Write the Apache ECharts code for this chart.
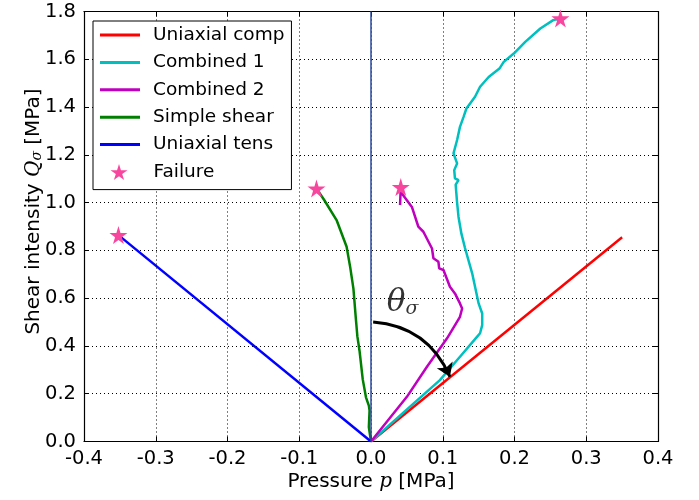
<!DOCTYPE html>
<html><head><meta charset="utf-8">
<script src="https://cdn.jsdelivr.net/npm/echarts@6/dist/echarts.min.js"></script>
<style>html,body{margin:0;padding:0;background:#fff}#c{width:699px;height:500px}</style>
</head><body><div id="c"></div>
<script>
const xTicks = [-0.4,-0.3,-0.2,-0.1,0.0,0.1,0.2,0.3,0.4];
const yTicks = [0,0.2,0.4,0.6,0.8,1.0,1.2,1.4,1.6,1.8];
const seriesNames = ['Uniaxial comp','Combined 1','Combined 2','Simple shear','Uniaxial tens'];
const failureName = 'Failure';
const uniaxialComp = [[0,0],[0.350,0.855]];
const combined1 = [[0,0],[0.096,0.257],[0.124,0.355],[0.148,0.439],[0.152,0.453],[0.155,0.487],[0.155,0.536],[0.150,0.578],[0.141,0.704],[0.131,0.81],[0.126,0.87],[0.122,0.94],[0.120,1.0],[0.118,1.075],[0.122,1.094],[0.117,1.101],[0.116,1.136],[0.120,1.164],[0.115,1.206],[0.120,1.262],[0.124,1.317],[0.129,1.359],[0.133,1.394],[0.145,1.443],[0.152,1.485],[0.164,1.526],[0.179,1.561],[0.185,1.589],[0.199,1.624],[0.215,1.673],[0.236,1.729],[0.254,1.764],[0.264,1.771]];
const combined2 = [[0,0],[0.050,0.187],[0.078,0.313],[0.106,0.432],[0.124,0.522],[0.127,0.557],[0.124,0.578],[0.117,0.620],[0.110,0.648],[0.101,0.718],[0.095,0.725],[0.094,0.752],[0.087,0.767],[0.085,0.808],[0.073,0.878],[0.066,0.899],[0.057,0.982],[0.043,1.038],[0.0415,1.065],[0.0405,0.99]];
const simpleShear = [[0,0],[-0.003,0.06],[-0.002,0.13],[-0.003,0.15],[-0.007,0.185],[-0.0115,0.26],[-0.016,0.38],[-0.019,0.44],[-0.021,0.51],[-0.0245,0.64],[-0.029,0.73],[-0.034,0.815],[-0.048,0.927],[-0.065,1.01],[-0.076,1.059]];
const uniaxialTens = [[0,0],[-0.352,0.864]];
const failurePts = [[0.264,1.771],[0.0415,1.065],[-0.076,1.059],[-0.352,0.864]];
const zeroLine = [[0,0],[0,1.8]];
const arrowCoords = [[0.003,0.50],[0.110,0.271]];
const thetaPos = [[0.044,0.58]];

const colors = ['#ff0000','#00bfbf','#bf00bf','#008000','#0000ff'];
const STAR = 'path://M50,0 L61,35 L98,35 L68,57 L79,91 L50,70 L21,91 L32,57 L2,35 L39,35 Z';
const FONT = 'DejaVu Sans';
const FS = 19.5;
const FSN = 20;
const FSL = 18.5;

const chart = echarts.init(document.getElementById('c'), null, {renderer:'canvas'});
const lineData = [uniaxialComp, combined1, combined2, simpleShear, uniaxialTens];
const fmt = v => Math.abs(v) < 1e-9 ? '0.0' : v.toFixed(1);
const axisCommon = {
  type:'value', axisLine:{show:true,onZero:false,lineStyle:{color:'#000',width:1.2}},
  axisTick:{show:true,inside:true,length:5,lineStyle:{color:'#000'}},
  axisLabel:{color:'#000',fontFamily:FONT,fontSize:FS,formatter:fmt},
  splitLine:{show:true,lineStyle:{color:'#000',type:[1,3],width:1}}
};
const series = lineData.map((d,i)=>({
  name: seriesNames[i], type:'line', data:d, showSymbol:false, symbol:'none',
  lineStyle:{color:colors[i],width:2.5}, itemStyle:{color:colors[i]}, z:3, animation:false
}));
series.push({name:'zero', type:'line', data:zeroLine, showSymbol:false, symbol:'none',
  lineStyle:{color:'#2c4a9c',width:1.5}, z:4, animation:false, silent:true});
series.push({name:failureName, type:'scatter', data:failurePts, symbol:STAR, symbolSize:18,
  itemStyle:{color:'#f8469f',opacity:1}, z:6, animation:false});
series.push({name:'arrow', type:'lines', coordinateSystem:'cartesian2d', z:5, animation:false,
  data:[{coords:arrowCoords}], symbol:['none','arrow'], symbolSize:[0,13],
  lineStyle:{color:'#000',width:3,curveness:0.3,opacity:1}});
series.push({name:'theta', type:'scatter', data:thetaPos, symbolSize:0, z:6, animation:false,
  label:{show:true, position:'inside', formatter:'{t|θ}{s|σ}',
    rich:{t:{fontFamily:'DejaVu Serif',fontStyle:'italic',fontSize:31,color:'#000'},
          s:{fontFamily:'DejaVu Serif',fontStyle:'italic',fontSize:19,color:'#000',verticalAlign:'bottom',padding:[12,0,0,0]}}}});

chart.setOption({
  animation:false,
  backgroundColor:'#fff',
  grid:{left:84,right:41,top:11.5,bottom:58.5},
  xAxis:[Object.assign({}, axisCommon, {min:xTicks[0],max:xTicks[xTicks.length-1],interval:0.1,position:'bottom',
      axisLabel:Object.assign({}, axisCommon.axisLabel, {margin:7}),
      name:'Pressure {i|p} [MPa]', nameLocation:'middle', nameGap:30, nameMoveOverlap:false,
      nameTextStyle:{color:'#000',fontFamily:FONT,fontSize:FSN,rich:{i:{fontFamily:'DejaVu Serif',fontStyle:'italic',fontSize:FSN}}}}),
    Object.assign({}, axisCommon, {min:xTicks[0],max:xTicks[xTicks.length-1],interval:0.1,position:'top',
      axisLabel:{show:false},splitLine:{show:false}})],
  yAxis:[Object.assign({}, axisCommon, {min:yTicks[0],max:yTicks[yTicks.length-1],interval:0.2,position:'left',
      name:'Shear intensity {i|Q}{s|σ} [MPa]', nameLocation:'middle', nameGap:40, nameRotate:90, nameMoveOverlap:false,
      nameTextStyle:{color:'#000',fontFamily:FONT,fontSize:FSN,padding:[0,0,0,30],rich:{
        i:{fontFamily:'DejaVu Serif',fontStyle:'italic',fontSize:FSN},
        s:{fontFamily:'DejaVu Serif',fontStyle:'italic',fontSize:14,verticalAlign:'bottom'}}}}),
    Object.assign({}, axisCommon, {min:yTicks[0],max:yTicks[yTicks.length-1],interval:0.2,position:'right',
      axisLabel:{show:false},splitLine:{show:false}})],
  legend:[{
    data:seriesNames.map((n,i)=>({name:n,icon:'rect',itemStyle:{color:colors[i]}})),
    orient:'vertical', left:93, top:21, itemWidth:40, itemHeight:3, itemGap:7.4,
    padding:[4,7,35,7], borderColor:'#000', borderWidth:1, backgroundColor:'#fff',
    textStyle:{color:'#000',fontFamily:FONT,fontSize:FSL,lineHeight:20,padding:[0,0,0,8]},
    selectedMode:false, z:10
  },{
    data:[{name:failureName,icon:STAR,itemStyle:{color:'#f8469f'}}],
    orient:'vertical', left:110.5, top:162, itemWidth:17, itemHeight:17,
    padding:0, textStyle:{color:'#000',fontFamily:FONT,fontSize:FSL,lineHeight:20,padding:[0,0,0,21]},
    selectedMode:false, z:11
  }],
  series:series
});
</script></body></html>
